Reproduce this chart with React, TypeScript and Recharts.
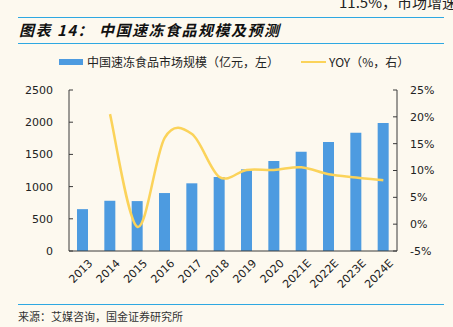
import {
  Bar,
  ComposedChart,
  Line,
  XAxis,
  YAxis,
} from "recharts";

const years = [
  "2013", "2014", "2015", "2016", "2017", "2018",
  "2019", "2020", "2021E", "2022E", "2023E", "2024E",
];
const marketSize = [650, 780, 775, 900, 1051, 1149, 1268, 1397, 1542, 1692, 1838, 1987];
const yoy = [null, 20.5, -0.5, 16.1, 16.8, 8.8, 10.1, 10.1, 10.6, 9.3, 8.7, 8.2];
const leftTicks = [0, 500, 1000, 1500, 2000, 2500];
const rightTicks = [-5, 0, 5, 10, 15, 20, 25];

const data = years.map((year, i) => ({
  year,
  size: marketSize[i],
  yoy: yoy[i],
}));

const bg = "#fdf9ef";
const rule = "#2ea8e2";
const axisColor = "#3a3a3a";
const barColor = "#4d9be0";
const lineColor = "#fbd35a";
const tickStyle = {
  fontSize: 11,
  fill: "#222",
  fontFamily: '"DejaVu Sans", sans-serif',
};
const cjk = '"Noto Sans CJK SC", sans-serif';

// excel-like smoothed line (catmull-rom)
const smoothCurve = (context: any) => {
  let pts: number[][] = [];
  return {
    areaStart() {},
    areaEnd() {},
    lineStart() {
      pts = [];
    },
    point(x: number, y: number) {
      pts.push([+x, +y]);
    },
    lineEnd() {
      if (!pts.length) return;
      context.moveTo(pts[0][0], pts[0][1]);
      for (let i = 0; i < pts.length - 1; i++) {
        const p0 = pts[i - 1] ?? pts[i];
        const p1 = pts[i];
        const p2 = pts[i + 1];
        const p3 = pts[i + 2] ?? pts[i + 1];
        context.bezierCurveTo(
          p1[0] + (p2[0] - p0[0]) / 6,
          p1[1] + (p2[1] - p0[1]) / 6,
          p2[0] - (p3[0] - p1[0]) / 6,
          p2[1] - (p3[1] - p1[1]) / 6,
          p2[0],
          p2[1],
        );
      }
    },
  };
};

const YearTick = ({ x, y, payload }: any) => (
  <g transform={`translate(${x},${y})`}>
    <text
      x={4}
      y={8}
      transform="rotate(-45)"
      textAnchor="end"
      dominantBaseline="middle"
      {...tickStyle}
    >
      {payload.value}
    </text>
  </g>
);

export default function App() {
  return (
    <div
      style={{
        position: "absolute",
        left: 0,
        top: 0,
        width: 453,
        height: 327,
        background: bg,
        overflow: "hidden",
        fontFamily: cjk,
      }}
    >
      <div
        style={{
          position: "absolute",
          right: -4,
          top: -9,
          fontSize: 15,
          color: "#222",
          whiteSpace: "nowrap",
        }}
      >
        11.5%，市场增速
      </div>
      <div style={{ position: "absolute", left: 18, width: 426, top: 17, height: 1, background: rule }} />
      <div
        style={{
          position: "absolute",
          left: 19,
          top: 20,
          fontSize: 15,
          fontWeight: 700,
          fontStyle: "italic",
          letterSpacing: 1.5,
          color: "#111",
          whiteSpace: "nowrap",
          lineHeight: "20px",
        }}
      >
        图表 14： 中国速冻食品规模及预测
      </div>
      <div style={{ position: "absolute", left: 18, width: 426, top: 43, height: 1, background: rule }} />

      {/* legend */}
      <div
        style={{
          position: "absolute",
          left: 59,
          top: 54,
          display: "flex",
          alignItems: "center",
          fontSize: 12,
          color: "#222",
          whiteSpace: "nowrap",
          lineHeight: "16px",
        }}
      >
        <span style={{ display: "inline-block", width: 24, height: 6, background: barColor, marginRight: 4 }} />
        <span>中国速冻食品市场规模（亿元，左）</span>
        <span style={{ display: "inline-block", width: 25, height: 2, background: lineColor, marginLeft: 22, marginRight: 3 }} />
        <span>YOY（%，右）</span>
      </div>

      <div style={{ position: "absolute", left: 0, top: 0 }}>
        <ComposedChart
          width={453}
          height={300}
          data={data}
          margin={{ top: 90, right: 16, bottom: 9, left: 4 }}
        >
          <XAxis
            dataKey="year"
            tick={<YearTick />}
            tickLine={false}
            axisLine={{ stroke: axisColor }}
            height={40}
            interval={0}
          />
          <YAxis
            yAxisId="left"
            domain={[0, 2500]}
            ticks={leftTicks}
            tick={tickStyle}
            tickSize={-4}
            tickMargin={20}
            tickLine={{ stroke: axisColor }}
            axisLine={{ stroke: axisColor }}
            width={65}
          />
          <YAxis
            yAxisId="right"
            orientation="right"
            domain={[-5, 25]}
            ticks={rightTicks}
            tick={tickStyle}
            tickSize={-4}
            tickMargin={17}
            tickLine={{ stroke: axisColor }}
            axisLine={{ stroke: axisColor }}
            tickFormatter={(v: number) => `${v}%`}
            width={40}
          />
          <Bar
            yAxisId="left"
            dataKey="size"
            fill={barColor}
            barSize={11}
            isAnimationActive={false}
          />
          <Line
            yAxisId="right"
            dataKey="yoy"
            type={smoothCurve as any}
            stroke={lineColor}
            strokeWidth={2.5}
            dot={false}
            connectNulls={false}
            isAnimationActive={false}
          />
        </ComposedChart>
      </div>

      <div style={{ position: "absolute", left: 18, width: 426, top: 304, height: 1, background: rule }} />
      <div
        style={{
          position: "absolute",
          left: 18,
          top: 308,
          fontSize: 11,
          color: "#333",
          whiteSpace: "nowrap",
          lineHeight: "16px",
        }}
      >
        来源：艾媒咨询，国金证券研究所
      </div>
    </div>
  );
}
